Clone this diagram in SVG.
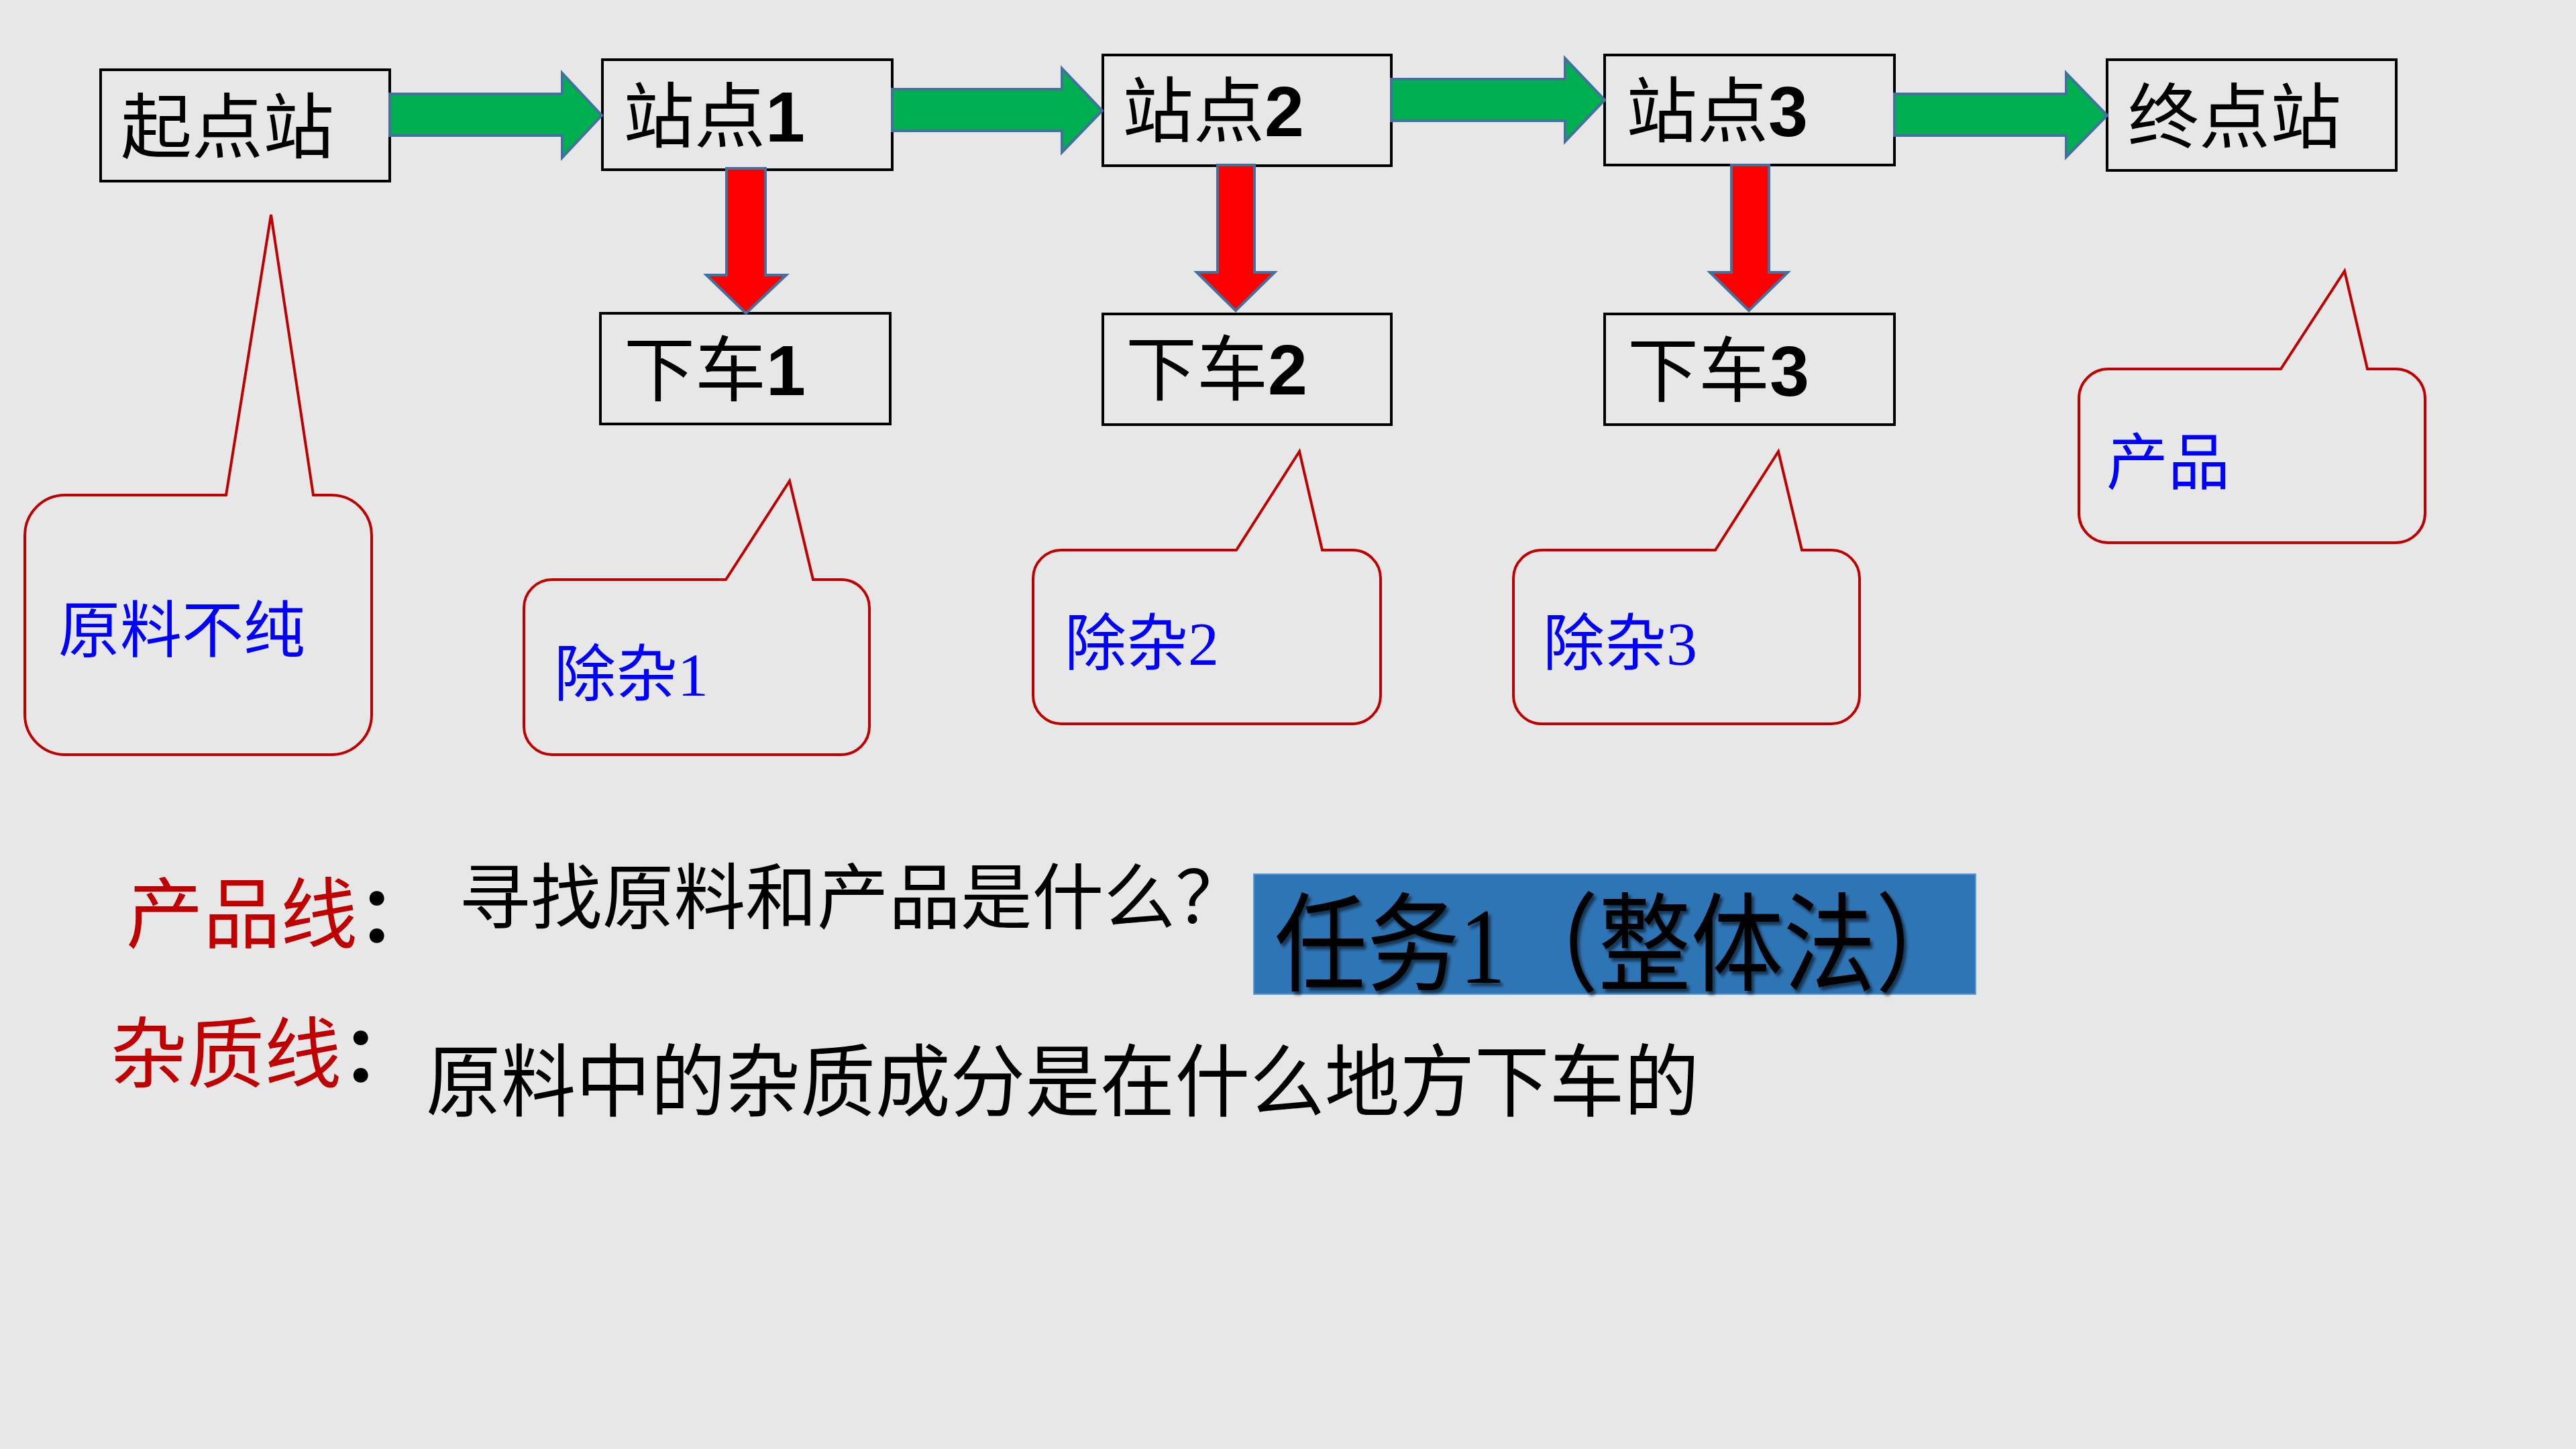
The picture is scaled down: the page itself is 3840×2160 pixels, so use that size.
<svg xmlns="http://www.w3.org/2000/svg" width="3840" height="2160" viewBox="0 0 3840 2160">
<defs>
<style>
.box{fill:none;stroke:#000;stroke-width:4}
.garrow{fill:#00B050;stroke:#41719C;stroke-width:4;stroke-linejoin:miter}
.rarrow{fill:#FF0000;stroke:#41719C;stroke-width:4;stroke-linejoin:miter}
.callout{fill:none;stroke:#C00000;stroke-width:4;stroke-linejoin:miter}
.bt{font-family:"Noto Sans CJK SC","Liberation Serif",sans-serif;font-size:106px;fill:#000}
.num{font-family:"Liberation Sans",sans-serif;font-weight:bold}
.ct{font-family:"Noto Sans CJK SC","Liberation Serif",sans-serif;font-size:92px;fill:#0000FF}
.sn{font-family:"Liberation Serif",serif}
.red{font-family:"Noto Sans CJK SC",sans-serif;font-size:115px;fill:#C00000}
.blk{font-family:"Noto Sans CJK SC",sans-serif;fill:#000}
</style>
<filter id="sh" x="-5%" y="-10%" width="110%" height="130%">
<feDropShadow dx="4" dy="5" stdDeviation="2" flood-color="#000" flood-opacity="0.55"/>
</filter>
</defs>
<rect width="3840" height="2160" fill="#E7E7E7"/>

<g id="node-start"><rect class="box" x="150" y="104" width="431" height="166"/><text class="bt" x="180" y="227" font-size="110">起点站</text></g>
<g id="node-s1"><rect class="box" x="898" y="89" width="432" height="164"/><text class="bt" x="929" y="211">站点<tspan class="num">1</tspan></text></g>
<g id="node-s2"><rect class="box" x="1644" y="82" width="430" height="165"/><text class="bt" x="1673" y="203">站点<tspan class="num">2</tspan></text></g>
<g id="node-s3"><rect class="box" x="2392" y="82" width="432" height="164"/><text class="bt" x="2424" y="203">站点<tspan class="num">3</tspan></text></g>
<g id="node-end"><rect class="box" x="3141" y="89" width="431" height="165"/><text class="bt" x="3172" y="212" font-size="110">终点站</text></g>
<g id="node-d1"><rect class="box" x="895" y="467" width="432" height="165"/><text class="bt" x="930" y="589">下车<tspan class="num">1</tspan></text></g>
<g id="node-d2"><rect class="box" x="1644" y="468" width="430" height="165"/><text class="bt" x="1678" y="588">下车<tspan class="num">2</tspan></text></g>
<g id="node-d3"><rect class="box" x="2392" y="468" width="432" height="165"/><text class="bt" x="2426" y="590">下车<tspan class="num">3</tspan></text></g>

<g id="connectors">
<polygon class="garrow" points="581,140 838,140 838,109 897,172 838,235 838,202 581,202"/>
<polygon class="garrow" points="1330,133 1583,133 1583,102 1643,165 1583,227 1583,195 1330,195"/>
<polygon class="garrow" points="2074,118 2333,118 2333,87 2392,149 2333,211 2333,180 2074,180"/>
<polygon class="garrow" points="2824,140 3080,140 3080,109 3141,172 3080,234 3080,202 2824,202"/>
<polygon class="rarrow" points="1083,251 1141,251 1141,410 1172,410 1112,467 1053,410 1083,410"/>
<polygon class="rarrow" points="1815,246 1870,246 1870,406 1900,406 1842,463 1784,406 1815,406"/>
<polygon class="rarrow" points="2581,246 2637,246 2637,406 2665,406 2607,463 2549,406 2581,406"/>
</g>

<g id="callout-raw"><path class="callout" d="M97,738 L337,738 L404,320 L467,738 L494,738 A60 60 0 0 1 554,798 L554,1065 A60 60 0 0 1 494,1125 L97,1125 A60 60 0 0 1 37,1065 L37,798 A60 60 0 0 1 97,738Z"/><text class="ct" x="87" y="972" font-size="95">原料不纯</text></g>
<g id="callout-c1"><path class="callout" d="M823,864 L1082,864 L1177,717 L1212,864 L1254,864 A42 42 0 0 1 1296,906 L1296,1083 A42 42 0 0 1 1254,1125 L823,1125 A42 42 0 0 1 781,1083 L781,906 A42 42 0 0 1 823,864Z"/><text class="ct" x="826" y="1037">除杂<tspan class="sn">1</tspan></text></g>
<g id="callout-c2"><path class="callout" d="M1582,820 L1843,820 L1937,673 L1971,820 L2016,820 A42 42 0 0 1 2058,862 L2058,1037 A42 42 0 0 1 2016,1079 L1582,1079 A42 42 0 0 1 1540,1037 L1540,862 A42 42 0 0 1 1582,820Z"/><text class="ct" x="1587" y="991">除杂<tspan class="sn">2</tspan></text></g>
<g id="callout-c3"><path class="callout" d="M2298,820 L2557,820 L2651,673 L2686,820 L2730,820 A42 42 0 0 1 2772,862 L2772,1037 A42 42 0 0 1 2730,1079 L2298,1079 A42 42 0 0 1 2256,1037 L2256,862 A42 42 0 0 1 2298,820Z"/><text class="ct" x="2300" y="991">除杂<tspan class="sn">3</tspan></text></g>
<g id="callout-product"><path class="callout" d="M3143,550 L3400,550 L3495,404 L3529,550 L3571,550 A44 44 0 0 1 3615,594 L3615,765 A44 44 0 0 1 3571,809 L3143,809 A44 44 0 0 1 3099,765 L3099,594 A44 44 0 0 1 3143,550Z"/><text class="ct" x="3140" y="722">产品</text></g>

<g id="text-product-line">
<text class="red" x="188" y="1404">产品线<tspan fill="#000" font-weight="bold">：</tspan></text>
<text class="blk" x="684" y="1376" font-size="107" textLength="1175" lengthAdjust="spacingAndGlyphs">寻找原料和产品是什么？</text>
</g>
<g id="text-impurity-line">
<text class="red" x="164" y="1612">杂质线<tspan fill="#000" font-weight="bold">：</tspan></text>
<text class="blk" x="635" y="1655" font-size="118" textLength="1898" lengthAdjust="spacingAndGlyphs">原料中的杂质成分是在什么地方下车的</text>
</g>
<g id="task-label">
<rect x="1869" y="1303" width="1076" height="179" fill="#2E75B6" stroke="#5B9BD5" stroke-width="2"/>
<text class="blk" x="1900" y="1465" font-size="160" textLength="1034" lengthAdjust="spacingAndGlyphs" filter="url(#sh)">任务<tspan font-family="Liberation Serif">1</tspan>（整体法）</text>
</g>
</svg>
